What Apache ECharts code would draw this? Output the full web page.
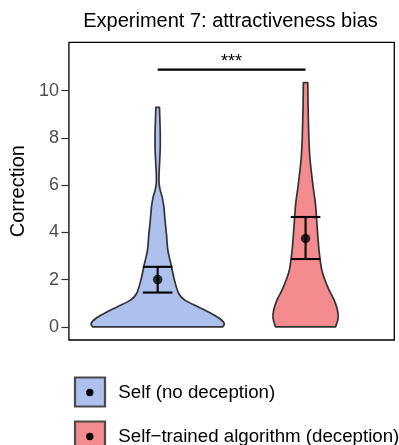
<!DOCTYPE html>
<html>
<head>
<meta charset="utf-8">
<script src="https://cdn.jsdelivr.net/npm/echarts@6/dist/echarts.min.js"></script>
<style>
  html, body { margin: 0; padding: 0; background: #fff; }
  #chart { width: 399px; height: 445px; }
</style>
</head>
<body>
<div id="chart"></div>
<script>
// 数据
const categories = ['Self (no deception)', 'Self\u2212trained algorithm (deception)'];
const groupPos = [1, 2];
const FILLS = ['#adc0ee', '#f38b8f'];
const FONT = '"Liberation Sans", Arial, sans-serif';

// violin profiles: value and relative density (1 = widest)
const blueValues = [0, 0.14, 0.36, 0.57, 0.85, 1.13, 1.41, 1.98, 2.61, 3.25, 3.9, 4.5, 5.08, 5.5, 5.8, 6.1, 6.5, 7.0, 7.6, 8.2, 8.8, 9.29];
const blueDensity = [0.978, 1.0, 0.926, 0.8, 0.604, 0.407, 0.316, 0.252, 0.203, 0.153, 0.133, 0.111, 0.093, 0.067, 0.037, 0.02, 0.021, 0.03, 0.039, 0.039, 0.033, 0.027];
const redValues = [0, 0.36, 0.71, 1.13, 1.41, 1.69, 2.0, 2.4, 3.11, 3.81, 4.52, 5.23, 5.93, 6.64, 7.2, 8.05, 9.47, 10.34];
const redDensity = [0.452, 0.489, 0.479, 0.43, 0.378, 0.333, 0.289, 0.244, 0.207, 0.185, 0.167, 0.148, 0.114, 0.084, 0.064, 0.049, 0.037, 0.033];

const means = [2.0, 3.74];
const ciLow = [1.45, 2.87];
const ciHigh = [2.54, 4.65];

const yTicks = [0, 2, 4, 6, 8, 10];
const sigLabel = '***';
const sigY = 10.89;

const violinValues = [blueValues, redValues];
const violinDensity = [blueDensity, redDensity];

const HALF = 0.45;   // violin half width (x units)
const CAP = 0.1;     // error bar cap half width

// catmull-rom through points -> svg path fragment
function spline(pts) {
  let d = '';
  for (let i = 0; i < pts.length - 1; i++) {
    const p0 = pts[Math.max(i - 1, 0)], p1 = pts[i], p2 = pts[i + 1], p3 = pts[Math.min(i + 2, pts.length - 1)];
    const c1 = [p1[0] + (p2[0] - p0[0]) / 6, p1[1] + (p2[1] - p0[1]) / 6];
    const c2 = [p2[0] - (p3[0] - p1[0]) / 6, p2[1] - (p3[1] - p1[1]) / 6];
    d += ' C' + c1[0] + ' ' + c1[1] + ' ' + c2[0] + ' ' + c2[1] + ' ' + p2[0] + ' ' + p2[1];
  }
  return d;
}

function renderViolin(params, api) {
  const i = params.dataIndex;
  const pos = api.value(0);
  const vals = violinValues[i], dens = violinDensity[i];
  const right = vals.map((v, k) => api.coord([pos + dens[k] * HALF, v]));
  const left = vals.map((v, k) => api.coord([pos - dens[k] * HALF, v])).reverse();
  let d = 'M' + right[0][0] + ' ' + right[0][1] + spline(right);
  d += ' L' + left[0][0] + ' ' + left[0][1] + spline(left) + ' Z';
  return {
    type: 'path',
    shape: { pathData: d },
    style: { fill: FILLS[i], stroke: '#333', lineWidth: 1.7, lineJoin: 'round' }
  };
}

function renderErrorBar(params, api) {
  const pos = api.value(0), lo = api.value(1), hi = api.value(2);
  const a = api.coord([pos, lo]), b = api.coord([pos, hi]);
  const l1 = api.coord([pos - CAP, lo]), r1 = api.coord([pos + CAP, lo]);
  const l2 = api.coord([pos - CAP, hi]), r2 = api.coord([pos + CAP, hi]);
  const st = { stroke: '#000', lineWidth: 2.1 };
  return {
    type: 'group',
    children: [
      { type: 'line', shape: { x1: a[0], y1: a[1], x2: b[0], y2: b[1] }, style: st },
      { type: 'line', shape: { x1: l1[0], y1: l1[1], x2: r1[0], y2: r1[1] }, style: st },
      { type: 'line', shape: { x1: l2[0], y1: l2[1], x2: r2[0], y2: r2[1] }, style: st }
    ]
  };
}

function renderSig(params, api) {
  const a = api.coord([api.value(0), api.value(2)]);
  const b = api.coord([api.value(1), api.value(2)]);
  return {
    type: 'group',
    children: [
      { type: 'line', shape: { x1: a[0], y1: a[1], x2: b[0], y2: b[1] }, style: { stroke: '#000', lineWidth: 2.2 } },
      { type: 'text', x: (a[0] + b[0]) / 2, y: a[1] + 1,
        style: { text: sigLabel, font: '18px ' + FONT, fill: '#000', textAlign: 'center', textVerticalAlign: 'bottom' } }
    ]
  };
}

const chart = echarts.init(document.getElementById('chart'));

// legend drawn as graphic
const legendItems = [];
categories.forEach((name, i) => {
  const y0 = 377.5 + i * 44;
  legendItems.push(
    { type: 'rect', shape: { x: 75, y: y0, width: 30, height: 29 }, style: { fill: FILLS[i], stroke: '#4a4a4a', lineWidth: 2.2 } },
    { type: 'circle', shape: { cx: 89.8, cy: y0 + 15, r: 3.7 }, style: { fill: '#000' } },
    { type: 'text', x: 118.3, y: y0 + 15.5, style: { text: name, font: '18.7px ' + FONT, fill: '#000', textVerticalAlign: 'middle' } }
  );
});

const option = {
  backgroundColor: '#fff',
  animation: false,
  grid: {
    left: 66.7, right: 4.7, top: 42.3, bottom: 105,
    show: true, borderColor: '#000', borderWidth: 1.3
  },
  xAxis: {
    type: 'value', min: 0.4, max: 2.6,
    axisLine: { show: false }, axisTick: { show: false },
    axisLabel: { show: false }, splitLine: { show: false }
  },
  yAxis: {
    type: 'value', min: -0.56, max: 12.05,
    name: 'Correction', nameLocation: 'middle', nameGap: 37, nameRotate: 90,
    nameTextStyle: { fontSize: 20, color: '#000', fontFamily: FONT },
    axisLine: { show: false },
    axisTick: { show: true, customValues: yTicks, length: 7.5, lineStyle: { color: '#333', width: 1.2 } },
    axisLabel: { customValues: yTicks, margin: 10, fontSize: 18, color: '#4d4d4d', fontFamily: FONT },
    splitLine: { show: false }
  },
  graphic: [
    { type: 'text', x: 230.5, y: 21.5,
      style: { text: 'Experiment 7: attractiveness bias', font: '20px ' + FONT, fill: '#000', textAlign: 'center', textVerticalAlign: 'middle' } }
  ].concat(legendItems),
  series: [
    {
      type: 'custom', name: 'violin', renderItem: renderViolin, z: 1,
      data: groupPos.map(p => [p, 0]), encode: { x: 0, y: 1 }
    },
    {
      type: 'custom', name: 'ci', renderItem: renderErrorBar, z: 2,
      data: groupPos.map((p, i) => [p, ciLow[i], ciHigh[i]]), encode: { x: 0, y: [1, 2] }
    },
    {
      type: 'scatter', name: 'mean', z: 3, symbolSize: 9.5,
      itemStyle: { color: '#000' },
      data: groupPos.map((p, i) => [p, means[i]])
    },
    {
      type: 'custom', name: 'sig', renderItem: renderSig, z: 2,
      data: [[groupPos[0], groupPos[1], sigY]], encode: { x: [0, 1], y: 2 }
    }
  ]
};

chart.setOption(option);
</script>
</body>
</html>
